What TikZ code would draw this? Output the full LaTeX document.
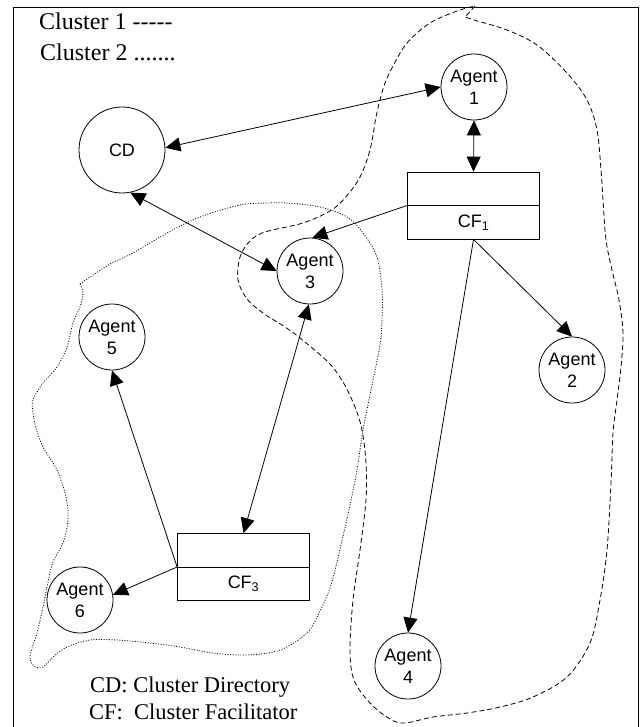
\documentclass[tikz,border=0pt]{standalone}
\usepackage{fontspec}
\setmainfont{Liberation Serif}
\newfontfamily\arialf{Liberation Sans}
\usetikzlibrary{arrows.meta}
\begin{document}
\begin{tikzpicture}[x=1pt,y=-1pt,
  agent/.style={draw,circle,minimum size=66pt,inner sep=0pt,align=center,line width=0.8pt,
    font=\arialf\fontsize{18}{22}\selectfont},
  cfbox/.style={draw,rectangle,minimum width=132pt,minimum height=67pt,inner sep=0pt,line width=0.8pt},
  cflabel/.style={inner sep=0pt,font=\arialf\fontsize{18}{22}\selectfont},
  legend/.style={anchor=base west,inner sep=0pt,font=\fontsize{22.5}{27}\selectfont},
  toplegend/.style={legend,font=\fontsize{24}{29}\selectfont},
  arr/.style={line width=0.8pt,-{Triangle[length=15pt,width=14pt]}},
  biarr/.style={line width=0.8pt,{Triangle[length=15pt,width=14pt]}-{Triangle[length=15pt,width=14pt]}},
  clusterone/.style={line width=0.8pt,dash pattern=on 5pt off 3pt},
  clustertwo/.style={line width=0.8pt,dash pattern=on 1pt off 1.6pt}]
\useasboundingbox (0,0) rectangle (644,727);
\fill[white] (0,0) rectangle (644,727);
% frame
\draw[line width=0.9pt] (13,727) -- (13,7) -- (638,7) -- (638,727);

% legend
\node[toplegend] (leg1) at (39,30) {Cluster 1 -{}-{}-{}-{}-};
\node[toplegend] (leg2) at (40,61) {Cluster 2 .......};
\node[legend] (leg3) at (90,692) {CD: Cluster Directory};
\node[legend] (leg4) at (89,719) {CF:~ Cluster Facilitator};

% cluster 1 (dashed)
\draw[clusterone] (475,6) -- (465,17) -- (477,21) -- plot[smooth,tension=0.55] coordinates {
 (477,21) (507,30) (537,45) (567,73) (587,100) (597,130) (601,170) (603,200) (606,240)
 (612,270) (619,300) (623,333) (621,367) (617,400) (613,433) (611,483) (607,550) (600,600)
 (590,643) (567,677) (533,697) (500,707) (467,713) (433,717) (405,723) (390,719) (370,703)
 (354,680) (350,650) (353,600) (360,550) (366,500) (366,463) (362,430) (355,407) (343,382)
 (328,362) (300,338) (285,327) (263,313) (247,299) (238,280) (240,257) (250,241) (265,232)
 (303,223) (330,211) (345,198) (360,177) (370,150) (376,117) (380,100) (385,83) (393,66)
 (407,43) (430,23) (457,11) (475,6)};

% cluster 2 (dotted)
\draw[clustertwo] (80,284) -- plot[smooth,tension=0.55] coordinates {
 (80,284) (83,293) (80,307) (73,323) (67,347) (57,367) (43,383) (33,400) (33,413) (36,428)
 (43,447) (57,470) (66,497) (68,520) (63,543) (53,562) (47,587) (43,607) (37,633) (30,656)
 (34,666) (43,667) (53,657) (67,647) (90,640) (117,640) (150,643) (180,647) (213,653)
 (247,655) (280,650) (307,633) (320,611) (331,585) (341,545) (350,505) (357,470) (363,430)
 (372,385) (380,345) (382,320) (382,290) (377,257) (363,233) (347,217) (320,207) (287,203)
 (267,203) (240,205) (200,217) (167,233) (133,253) (110,264) (80,284)};

% nodes
\node[agent,minimum size=86pt] (CD) at (122,150) {CD};
\node[agent] (A1) at (474,87) {Agent\\1};
\node[agent] (A2) at (572,370) {Agent\\2};
\node[agent] (A3) at (310,271) {Agent\\3};
\node[agent] (A4) at (408,666) {Agent\\4};
\node[agent] (A5) at (112,337) {Agent\\5};
\node[agent] (A6) at (80,600) {Agent\\6};

\node[cfbox] (CF1) at (473.5,205.5) {};
\draw[line width=0.8pt] (CF1.west) -- (CF1.east);
\node[cflabel] (CF1t) at (473.5,223) {CF\textsubscript{1}};

\node[cfbox] (CF3) at (243.5,567) {};
\draw[line width=0.8pt] (CF3.west) -- (CF3.east);
\node[cflabel] (CF3t) at (243.5,584) {CF\textsubscript{3}};

% connectors
\draw[biarr] (CD.3) -- (A1.west);
\draw[biarr] (CD.-79) -- (A3.west);
\draw[biarr] (A1.south) -- (CF1.north);
\draw[arr] (CF1.west) -- (A3.86);
\draw[arr] (CF1.south) -- (A2.north);
\draw[arr] (CF1.south) -- (A4.north);
\draw[biarr] (A3.-92) -- (CF3.north);
\draw[arr] (CF3.west) -- (A5.south);
\draw[arr] (CF3.west) -- (A6.9);
\end{tikzpicture}
\end{document}
